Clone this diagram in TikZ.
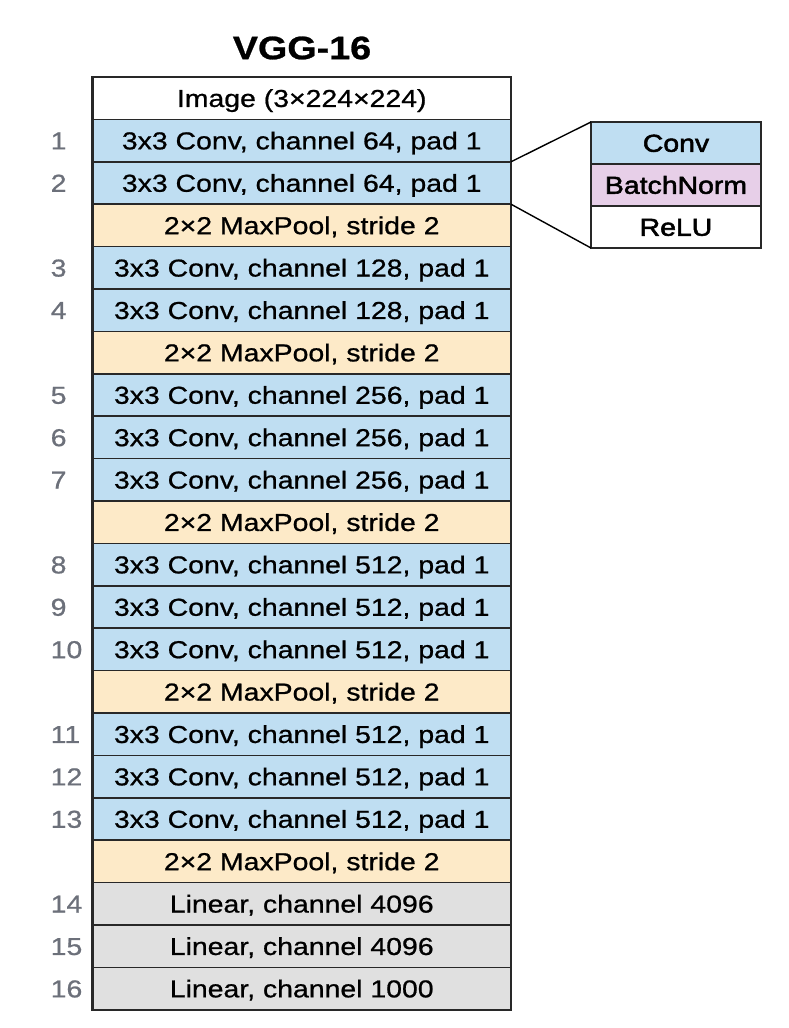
\documentclass[tikz,border=0pt]{standalone}
\usepackage{fontspec}
\setmainfont[FakeStretch=1.16, FakeBold=0.8]{Liberation Sans}
\newfontfamily\partfont[FakeStretch=1.16, FakeBold=2.2]{Liberation Sans}
\usetikzlibrary{positioning}
\definecolor{convblue}{RGB}{191,222,242}
\definecolor{poolsand}{RGB}{253,234,200}
\definecolor{fcgray}{RGB}{224,224,224}
\definecolor{bnpink}{RGB}{231,207,232}
\definecolor{edgegray}{RGB}{40,40,40}
\definecolor{numgray}{RGB}{108,112,122}

\begin{document}
\begin{tikzpicture}[
    x=1pt, y=1pt,
    layer/.style={
        rectangle,
        draw=edgegray,
        line width=1.5pt,
        minimum width=418.5pt,
        minimum height=42.4pt,
        inner sep=0pt,
        outer sep=0pt,
        text height=17.5pt,
        text depth=0pt,
        font=\fontsize{24.5}{28}\selectfont
    },
    conv/.style={layer, fill=convblue},
    pool/.style={layer, fill=poolsand},
    fc/.style={layer, fill=fcgray},
    input/.style={layer, fill=white},
    part/.style={
        layer,
        minimum width=170pt,
        minimum height=42pt,
        font=\partfont\fontsize{24.5}{28}\selectfont
    },
    num/.style={
        anchor=west,
        inner sep=0pt,
        text height=17.5pt,
        text depth=0pt,
        text=numgray,
        font=\fontsize{24.5}{28}\selectfont
    },
    frame/.style={draw=edgegray, line width=2.2pt},
    zoomline/.style={draw=black, line width=1.4pt}
]

\useasboundingbox (0,0) rectangle (788,-1028);

\node[font=\fontsize{32.5}{36}\selectfont\bfseries] (title) at (302,-48) {VGG-16};

% Layers
\node[input] (img) at (301.75,-98.2) {Image (3×224×224)};
\node[conv, below=0pt of img] (c1) {3x3 Conv, channel 64, pad 1};
\node[conv, below=0pt of c1] (c2) {3x3 Conv, channel 64, pad 1};
\node[pool, below=0pt of c2] (p1) {2×2 MaxPool, stride 2};
\node[conv, below=0pt of p1] (c3) {3x3 Conv, channel 128, pad 1};
\node[conv, below=0pt of c3] (c4) {3x3 Conv, channel 128, pad 1};
\node[pool, below=0pt of c4] (p2) {2×2 MaxPool, stride 2};
\node[conv, below=0pt of p2] (c5) {3x3 Conv, channel 256, pad 1};
\node[conv, below=0pt of c5] (c6) {3x3 Conv, channel 256, pad 1};
\node[conv, below=0pt of c6] (c7) {3x3 Conv, channel 256, pad 1};
\node[pool, below=0pt of c7] (p3) {2×2 MaxPool, stride 2};
\node[conv, below=0pt of p3] (c8) {3x3 Conv, channel 512, pad 1};
\node[conv, below=0pt of c8] (c9) {3x3 Conv, channel 512, pad 1};
\node[conv, below=0pt of c9] (c10) {3x3 Conv, channel 512, pad 1};
\node[pool, below=0pt of c10] (p4) {2×2 MaxPool, stride 2};
\node[conv, below=0pt of p4] (c11) {3x3 Conv, channel 512, pad 1};
\node[conv, below=0pt of c11] (c12) {3x3 Conv, channel 512, pad 1};
\node[conv, below=0pt of c12] (c13) {3x3 Conv, channel 512, pad 1};
\node[pool, below=0pt of c13] (p5) {2×2 MaxPool, stride 2};
\node[fc, below=0pt of p5] (fc14) {Linear, channel 4096};
\node[fc, below=0pt of fc14] (fc15) {Linear, channel 4096};
\node[fc, below=0pt of fc15] (fc16) {Linear, channel 1000};
\draw[frame] (img.north west) rectangle (fc16.south east);

% Layer numbers
\node[num] (n1) at ([xshift=-42pt]c1.west) {1};
\node[num] (n2) at ([xshift=-42pt]c2.west) {2};
\node[num] (n3) at ([xshift=-42pt]c3.west) {3};
\node[num] (n4) at ([xshift=-42pt]c4.west) {4};
\node[num] (n5) at ([xshift=-42pt]c5.west) {5};
\node[num] (n6) at ([xshift=-42pt]c6.west) {6};
\node[num] (n7) at ([xshift=-42pt]c7.west) {7};
\node[num] (n8) at ([xshift=-42pt]c8.west) {8};
\node[num] (n9) at ([xshift=-42pt]c9.west) {9};
\node[num] (n10) at ([xshift=-42pt]c10.west) {10};
\node[num] (n11) at ([xshift=-42pt]c11.west) {11};
\node[num] (n12) at ([xshift=-42pt]c12.west) {12};
\node[num] (n13) at ([xshift=-42pt]c13.west) {13};
\node[num] (n14) at ([xshift=-42pt]fc14.west) {14};
\node[num] (n15) at ([xshift=-42pt]fc15.west) {15};
\node[num] (n16) at ([xshift=-42pt]fc16.west) {16};

% Conv block detail
\node[part, fill=convblue] (sconv) at (676,-143) {Conv};
\node[part, fill=bnpink, below=0pt of sconv] (sbn) {BatchNorm};
\node[part, fill=white, below=0pt of sbn] (srelu) {ReLU};
\draw[frame] (sconv.north west) rectangle (srelu.south east);
\draw[zoomline] (c1.south east) -- (sconv.north west);
\draw[zoomline] (c2.south east) -- (srelu.south west);

\end{tikzpicture}
\end{document}
